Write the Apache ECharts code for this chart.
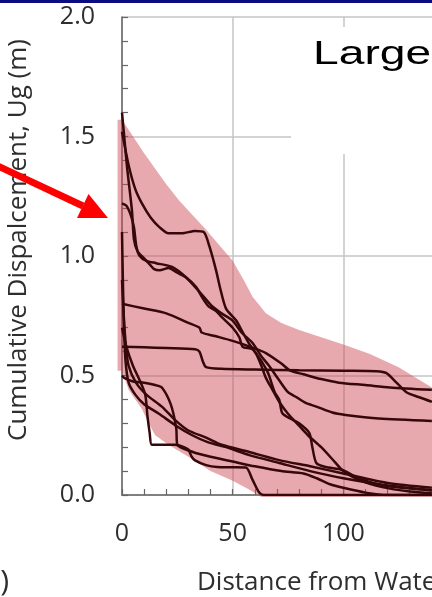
<!DOCTYPE html>
<html><head><meta charset="utf-8">
<script src="https://cdn.jsdelivr.net/npm/echarts@6/dist/echarts.min.js"></script>
<style>html,body{margin:0;padding:0;background:#fff}#c{width:432px;height:597px}</style>
</head><body><div id="c"></div>
<script>
// ---- data ----
const yTicks = [0, 0.5, 1.0, 1.5, 2.0];
const xTicks = [0, 50, 100, 150];
const yTitle = 'Cumulative Dispalcement, Ug (m)';
const xTitle = 'Distance from Waterfront, L (m)';
const panelTitle = 'Large';

const bandUpper = [[-2,1.57],[0,1.57],[10,1.43],[20,1.3],[26,1.23],[38,1.11],[50,0.98],[55,0.9],[59,0.83],[65,0.76],[72,0.72],[80,0.69],[100,0.63],[112,0.59],[125,0.535],[140,0.45],[150,0.4]];
const bandLower = [[-2,0.52],[0,0.52],[3,0.44],[6,0.4],[9,0.36],[12,0.3],[15,0.25],[21,0.21],[30,0.16],[40,0.1],[50,0.06],[57,0.025],[63,-0.008],[150,-0.008]];

const run1 = [[0,1.52],[3,1.38],[6,1.28],[9,1.22],[13,1.16],[17,1.12],[21,1.095],[27,1.095],[33,1.105],[37,1.1],[39.5,1.04],[42.5,0.94],[44.5,0.86],[47,0.78],[51.6,0.73],[54,0.69],[57,0.64],[60.6,0.59],[63,0.54],[65,0.49],[68,0.44],[71,0.39],[75,0.34],[80,0.29],[84,0.25],[90,0.2],[96,0.14],[100,0.1],[107,0.063],[117.6,0.033],[130,0.015],[140,0.008]];
const run2 = [[0,1.22],[2,1.21],[4,1.17],[5.4,1.12],[6.5,1.04],[8,1.0],[11,0.98],[15.4,0.97],[22.6,0.954],[29,0.91],[35,0.85],[40.7,0.79],[45,0.76],[50,0.73],[54,0.68],[59,0.636],[63,0.58],[66.5,0.54],[71,0.48],[75,0.43],[78.7,0.41],[83,0.385],[87.8,0.37],[95,0.345],[101,0.335],[116,0.32],[140,0.31]];
const run3 = [[0,1.6],[1,1.5],[2.3,1.37],[4.5,1.19],[5.4,1.07],[7,1.02],[10,0.99],[12.5,0.965],[14.5,0.945],[17,0.94],[21,0.95],[25,0.93],[29,0.91],[33.5,0.87],[36,0.83],[39,0.79],[42.5,0.77],[45,0.745],[50,0.70],[53,0.66],[54.5,0.62],[59,0.61],[63,0.56],[66,0.51],[69,0.43],[71,0.40],[72.4,0.343],[76,0.32],[80,0.30],[84.6,0.26],[86,0.2],[87.8,0.134],[92,0.117],[99.5,0.105],[107,0.07],[118,0.04],[140,0.02]];
const run4 = [[0,0.80],[10,0.78],[20,0.76],[30,0.72],[35,0.70],[36,0.68],[42,0.665],[50,0.645],[58,0.62],[65,0.594],[72,0.55],[76,0.52],[82,0.505],[90,0.485],[98,0.47],[110,0.46],[121,0.45],[140,0.44]];
const run5 = [[0,0.62],[10,0.618],[20,0.615],[33,0.61],[35,0.6],[36.5,0.56],[38,0.535],[45,0.528],[60,0.525],[80,0.522],[100,0.52],[115,0.518],[119.5,0.51],[124,0.47],[128.5,0.43],[134,0.41],[140,0.39]];
const run6 = [[0,1.1],[0.4,0.9],[0.9,0.7],[1.6,0.56],[3,0.47],[6,0.42],[10,0.38],[16.7,0.34],[24.4,0.29],[31.7,0.25],[39,0.22],[48,0.197],[57.5,0.167],[71,0.134],[85,0.1],[100,0.07],[120,0.04],[140,0.02]];
const run7 = [[0,0.9],[0.8,0.75],[1.8,0.62],[3,0.54],[6.3,0.47],[11,0.42],[18,0.37],[24.4,0.31],[30,0.27],[38,0.24],[45,0.21],[57.5,0.18],[71,0.146],[85,0.12],[100,0.09],[120,0.05],[140,0.03]];
const run8 = [[0,0.7],[2,0.62],[5,0.54],[8,0.48],[10.5,0.42],[11.5,0.33],[12.5,0.26],[13.5,0.21],[18,0.21],[24,0.21],[28,0.2],[30,0.19],[31.5,0.16],[33,0.145],[38,0.125],[43,0.117],[50,0.116],[56,0.115],[59,0.063],[62,0.01],[64,0.0],[140,0.0]];
const run9 = [[0,0.5],[1,0.49],[5,0.475],[10,0.47],[15,0.46],[18,0.45],[22,0.38],[24.5,0.28],[25,0.21],[32,0.18],[40,0.16],[50,0.14],[60,0.12],[72,0.1],[82,0.09],[88,0.07],[94,0.045],[100,0.03],[110,0.01],[120,0.0],[140,0.0]];
const runs = [run1, run2, run3, run4, run5, run6, run7, run8, run9];

// ---- chart ----
const FONT = 'Open Sans';
const chart = echarts.init(document.getElementById('c'), null, {renderer: 'canvas'});
const bandPoly = bandUpper.concat(bandLower.slice().reverse());

const series = [{
  type: 'custom', z: 1, silent: true,
  data: [[0, 0]],
  renderItem: function (params, api) {
    return {
      type: 'polygon',
      shape: {points: bandPoly.map(p => api.coord(p))},
      style: {fill: 'rgba(205,72,82,0.47)'}
    };
  }
}];
runs.forEach(r => series.push({
  type: 'line', data: r, showSymbol: false, smooth: 0.25, z: 3, silent: true,
  lineStyle: {color: '#360809', width: 2.5}
}));

chart.setOption({
  animation: false,
  backgroundColor: '#ffffff',
  grid: {left: 122, top: 17, width: 332, height: 478, containLabel: false, outerBoundsMode: 'none'},
  xAxis: {
    type: 'value', min: xTicks[0], max: xTicks[xTicks.length - 1], interval: 50,
    axisLine: {show: true, lineStyle: {color: '#666', width: 1.5}},
    axisTick: {show: true, inside: true, length: 6, lineStyle: {color: '#666', width: 1.2}},
    minorTick: {show: true, splitNumber: 5, length: 6, lineStyle: {color: '#666', width: 1.2}},
    splitLine: {show: true, lineStyle: {color: '#c4c4c4', width: 1.5}},
    axisLabel: {fontFamily: FONT, fontSize: 25, color: '#2e2e2e', margin: 26}
  },
  yAxis: {
    type: 'value', min: yTicks[0], max: yTicks[yTicks.length - 1], interval: 0.5,
    name: yTitle, nameLocation: 'middle', nameGap: 90,
    nameTextStyle: {fontFamily: FONT, fontSize: 26, color: '#2e2e2e', padding: [0, 0, 0, 32]},
    axisLine: {show: true, lineStyle: {color: '#666', width: 1.5}},
    axisTick: {show: true, inside: true, length: 6, lineStyle: {color: '#666', width: 1.2}},
    minorTick: {show: true, splitNumber: 5, length: 6, lineStyle: {color: '#666', width: 1.2}},
    splitLine: {show: true, lineStyle: {color: '#c4c4c4', width: 1.5}},
    axisLabel: {fontFamily: FONT, fontSize: 25, color: '#2e2e2e', margin: 27,
      formatter: v => v.toFixed(1)}
  },
  graphic: [
    {type: 'rect', z: 50, shape: {x: 0, y: 0, width: 432, height: 3}, style: {fill: '#0b0b82'}},
    {type: 'rect', z: 50, shape: {x: 291, y: 27, width: 145, height: 127}, style: {fill: '#ffffff'}},
    {type: 'text', z: 60, x: 313, y: 71, scaleX: 1.4, style: {text: panelTitle, font: '33px "Liberation Sans"', fill: '#000', textVerticalAlign: 'bottom'}},
    {type: 'text', z: 60, x: 197, y: 583, style: {text: xTitle, font: '26px "Open Sans"', fill: '#2e2e2e', textVerticalAlign: 'middle'}},
    {type: 'text', z: 60, x: 9, y: 582, style: {text: '(b)', font: '30px "Open Sans"', fill: '#2e2e2e', textAlign: 'right', textVerticalAlign: 'middle'}},
    {type: 'polyline', z: 60, shape: {points: [[-10, 162.3], [83, 206]]}, style: {stroke: '#ff0000', lineWidth: 7}},
    {type: 'polygon', z: 60, shape: {points: [[108, 218], [77, 218], [88.5, 194]]}, style: {fill: '#ff0000'}}
  ],
  series: series
});
</script></body></html>
